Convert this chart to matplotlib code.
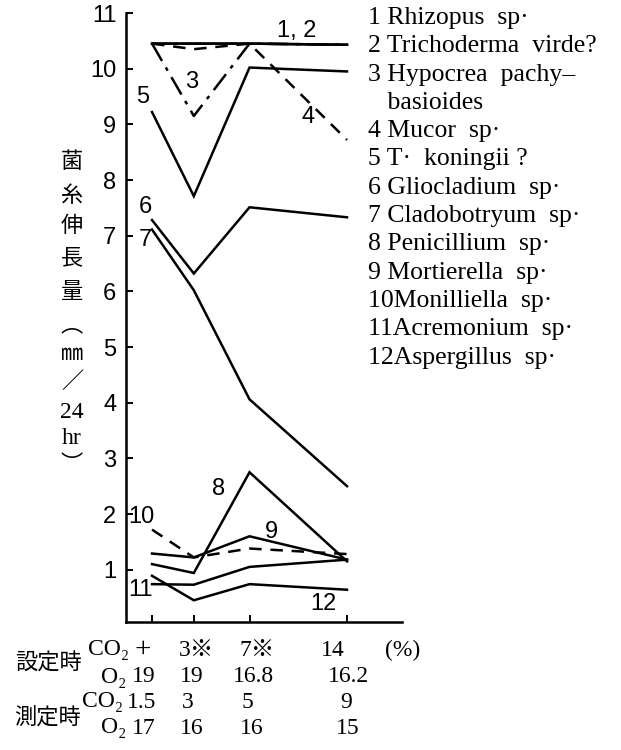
import matplotlib.pyplot as plt

plt.rcParams['font.family'] = ['Liberation Serif', 'DejaVu Serif']

# x positions: set CO2 concentration (%), "+" = ambient air
co2_set = [0, 3, 7, 14]

# mycelial growth (mm / 24 hr)
rhizopus = [10.45, 10.45, 10.45, 10.43]
trichoderma = [10.45, 10.45, 10.45, 10.43]
hypocrea = [10.45, 9.15, 10.45, 10.43]
mucor = [10.45, 10.35, 10.45, 8.72]
koningii = [9.22, 7.71, 10.02, 9.95]
gliocladium = [7.28, 6.32, 7.51, 7.33]
cladobotryum = [7.11, 6.02, 4.06, 2.50]
penicillium = [1.10, 0.94, 2.75, 1.15]
mortierella = [1.29, 1.22, 1.60, 1.18]
monilliella = [1.72, 1.22, 1.38, 1.28]
acremonium = [0.74, 0.73, 1.05, 1.18]
aspergillus = [0.89, 0.45, 0.74, 0.64]

series = [rhizopus, trichoderma, hypocrea, mucor, koningii, gliocladium,
          cladobotryum, penicillium, mortierella, monilliella, acremonium, aspergillus]
styles = ['-', '-', (0, (8, 3, 1.5, 3)), (0, (5, 3.5)), '-', '-',
          '-', '-', '-', (0, (5, 3.5)), '-', '-']

legend_lines = ["1 Rhizopus  sp·", "2 Trichoderma  virde?", "3 Hypocrea  pachy–",
                "   basioides", "4 Mucor  sp·", "5 T·  koningii ?", "6 Gliocladium  sp·",
                "7 Cladobotryum  sp·", "8 Penicillium  sp·", "9 Mortierella  sp·",
                "10Monilliella  sp·", "11Acremonium  sp·", "12Aspergillus  sp·"]

# in-plot curve labels
curve_labels = ["1, 2", "3", "4", "5", "6", "7", "8", "9", "10", "11", "12"]
label_x = [10.4, 2.85, 11.2, -0.65, -0.5, -0.5, 4.75, 8.6, -0.75, -0.85, 12.3]
label_y = [10.68, 9.76, 9.13, 9.49, 7.52, 6.92, 2.45, 1.68, 1.95, 0.64, 0.38]

# condition table under the x axis
table_rows = [["+", "3※", "7※", "14", "(%)"],
              ["19", "19", "16.8", "16.2"],
              ["1.5", "3", "5", "9"],
              ["17", "16", "16", "15"]]
row_gas = ["CO₂", "O₂", "CO₂", "O₂"]
row_group = ["設定時", "測定時"]
ylab_chars = ["菌", "糸", "伸", "長", "量", "︵", "㎜", "／", "24", "hr", "︶"]

W, H = 621, 750
fig = plt.figure(figsize=(W / 100, H / 100), dpi=100)
ax = fig.add_axes([126 / W, (H - 622) / H, (402 - 126) / W, (622 - 13) / H])

for vals, ls in zip(series, styles):
    ax.plot(co2_set, vals, color='black', lw=1.8, linestyle=ls, solid_joinstyle='miter')

ax.set_xlim(-1.87, 17.95)
ax.set_ylim(0.06, 11.0)
ax.set_xticks(co2_set)
ax.set_xticklabels([])
ax.set_yticks(range(1, 12))
ax.tick_params(direction='in', length=5, width=1.4, pad=7)
for t in ax.get_yticklabels():
    t.set_fontfamily(['Liberation Sans', 'DejaVu Sans'])
    t.set_fontsize(17)
for s in ['top', 'right']:
    ax.spines[s].set_visible(False)
for s in ['left', 'bottom']:
    ax.spines[s].set_linewidth(1.8)

for txt, x, y in zip(curve_labels, label_x, label_y):
    ax.text(x, y, txt, fontsize=17, ha='center', va='center',
            family=['Liberation Sans', 'DejaVu Sans'])

# legend text at right
for i, txt in enumerate(legend_lines):
    fig.text(368 / W, 1 - (18 + 28.3 * i) / H, txt, fontsize=18.5, ha='left', va='center')

# vertical y label
ylab_y = [162, 196, 226, 258, 292, 325, 353, 382, 412, 438, 465]
for ch, py in zip(ylab_chars, ylab_y):
    if ch.isascii():
        fig.text(72 / W, 1 - py / H, ch, fontsize=17, ha='center', va='center')
    else:
        fig.text(72 / W, 1 - py / H, ch, fontsize=16, ha='center', va='center',
                 family=['Noto Sans CJK JP', 'DejaVu Sans'])

# table below the axis
row_py = [650, 677, 702, 728]
col_px = [[143, 197, 257, 333, 403],
          [144, 192, 253, 348],
          [142, 188, 247, 346],
          [144, 192, 252, 348]]
gas_right = [129, 126, 123, 126]
for r, vals in enumerate(table_rows):
    fig.text(gas_right[r] / W, 1 - row_py[r] / H, row_gas[r], fontsize=17,
             ha='right', va='center')
    for v, px in zip(vals, col_px[r]):
        size = 21 if v == "+" else 17
        fig.text(px / W, 1 - row_py[r] / H, v, fontsize=size, ha='center', va='center',
                 family=['Liberation Serif', 'Noto Sans CJK JP', 'DejaVu Sans'])
for g, py in zip(row_group, [663, 717]):
    fig.text(48 / W, 1 - py / H, g, fontsize=16, ha='center', va='center',
             family=['Noto Sans CJK JP'])

fig.savefig('out.png', dpi=100)
